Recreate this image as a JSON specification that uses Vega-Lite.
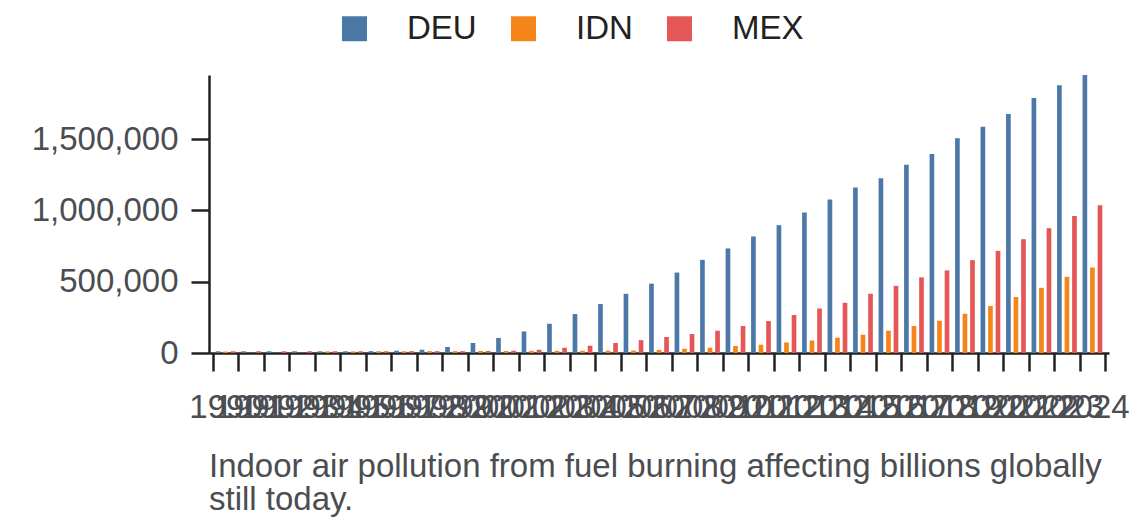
{
  "$schema": "https://vega.github.io/schema/vega-lite/v6.json",
  "width": 900,
  "height": 278,
  "autosize": "none",
  "padding": {"left": 209, "top": 75, "right": 31, "bottom": 175},
  "config": {
    "font": "Liberation Sans",
    "view": {"stroke": null}
  },
  "title": {
    "text": ["Indoor air pollution from fuel burning affecting billions globally", "still today."],
    "orient": "bottom",
    "anchor": "start",
    "frame": "group",
    "fontSize": 33,
    "fontWeight": "normal",
    "color": "#4a4d52",
    "lineHeight": 33,
    "offset": 27
  },
  "data": {
    "values": [
      {"year": "1990", "country": "DEU", "value": 12000},
      {"year": "1991", "country": "DEU", "value": 12000},
      {"year": "1992", "country": "DEU", "value": 12000},
      {"year": "1993", "country": "DEU", "value": 12000},
      {"year": "1994", "country": "DEU", "value": 12000},
      {"year": "1995", "country": "DEU", "value": 12000},
      {"year": "1996", "country": "DEU", "value": 13000},
      {"year": "1997", "country": "DEU", "value": 16000},
      {"year": "1998", "country": "DEU", "value": 23000},
      {"year": "1999", "country": "DEU", "value": 42000},
      {"year": "2000", "country": "DEU", "value": 70000},
      {"year": "2001", "country": "DEU", "value": 105000},
      {"year": "2002", "country": "DEU", "value": 151000},
      {"year": "2003", "country": "DEU", "value": 205000},
      {"year": "2004", "country": "DEU", "value": 273000},
      {"year": "2005", "country": "DEU", "value": 343000},
      {"year": "2006", "country": "DEU", "value": 415000},
      {"year": "2007", "country": "DEU", "value": 486000},
      {"year": "2008", "country": "DEU", "value": 564000},
      {"year": "2009", "country": "DEU", "value": 653000},
      {"year": "2010", "country": "DEU", "value": 733000},
      {"year": "2011", "country": "DEU", "value": 817000},
      {"year": "2012", "country": "DEU", "value": 896000},
      {"year": "2013", "country": "DEU", "value": 985000},
      {"year": "2014", "country": "DEU", "value": 1076000},
      {"year": "2015", "country": "DEU", "value": 1160000},
      {"year": "2016", "country": "DEU", "value": 1225000},
      {"year": "2017", "country": "DEU", "value": 1319000},
      {"year": "2018", "country": "DEU", "value": 1396000},
      {"year": "2019", "country": "DEU", "value": 1506000},
      {"year": "2020", "country": "DEU", "value": 1587000},
      {"year": "2021", "country": "DEU", "value": 1676000},
      {"year": "2022", "country": "DEU", "value": 1788000},
      {"year": "2023", "country": "DEU", "value": 1877000},
      {"year": "2024", "country": "DEU", "value": 1949000},
      {"year": "1990", "country": "IDN", "value": 10000},
      {"year": "1994", "country": "IDN", "value": 11000},
      {"year": "1995", "country": "IDN", "value": 11000},
      {"year": "1996", "country": "IDN", "value": 12000},
      {"year": "1997", "country": "IDN", "value": 12000},
      {"year": "1998", "country": "IDN", "value": 13000},
      {"year": "1999", "country": "IDN", "value": 13000},
      {"year": "2000", "country": "IDN", "value": 14000},
      {"year": "2001", "country": "IDN", "value": 14000},
      {"year": "2002", "country": "IDN", "value": 15000},
      {"year": "2003", "country": "IDN", "value": 15000},
      {"year": "2004", "country": "IDN", "value": 16000},
      {"year": "2005", "country": "IDN", "value": 16000},
      {"year": "2006", "country": "IDN", "value": 17000},
      {"year": "2007", "country": "IDN", "value": 21000},
      {"year": "2008", "country": "IDN", "value": 30000},
      {"year": "2009", "country": "IDN", "value": 37000},
      {"year": "2010", "country": "IDN", "value": 49000},
      {"year": "2011", "country": "IDN", "value": 58000},
      {"year": "2012", "country": "IDN", "value": 74000},
      {"year": "2013", "country": "IDN", "value": 88000},
      {"year": "2014", "country": "IDN", "value": 107000},
      {"year": "2015", "country": "IDN", "value": 128000},
      {"year": "2016", "country": "IDN", "value": 156000},
      {"year": "2017", "country": "IDN", "value": 189000},
      {"year": "2018", "country": "IDN", "value": 226000},
      {"year": "2019", "country": "IDN", "value": 275000},
      {"year": "2020", "country": "IDN", "value": 329000},
      {"year": "2021", "country": "IDN", "value": 392000},
      {"year": "2022", "country": "IDN", "value": 457000},
      {"year": "2023", "country": "IDN", "value": 534000},
      {"year": "2024", "country": "IDN", "value": 599000},
      {"year": "1990", "country": "MEX", "value": 12000},
      {"year": "1991", "country": "MEX", "value": 12000},
      {"year": "1992", "country": "MEX", "value": 12000},
      {"year": "1993", "country": "MEX", "value": 12000},
      {"year": "1994", "country": "MEX", "value": 12000},
      {"year": "1995", "country": "MEX", "value": 12000},
      {"year": "1996", "country": "MEX", "value": 12000},
      {"year": "1997", "country": "MEX", "value": 13000},
      {"year": "1998", "country": "MEX", "value": 13000},
      {"year": "1999", "country": "MEX", "value": 13000},
      {"year": "2000", "country": "MEX", "value": 14000},
      {"year": "2001", "country": "MEX", "value": 16000},
      {"year": "2002", "country": "MEX", "value": 23000},
      {"year": "2003", "country": "MEX", "value": 37000},
      {"year": "2004", "country": "MEX", "value": 51000},
      {"year": "2005", "country": "MEX", "value": 70000},
      {"year": "2006", "country": "MEX", "value": 90000},
      {"year": "2007", "country": "MEX", "value": 112000},
      {"year": "2008", "country": "MEX", "value": 133000},
      {"year": "2009", "country": "MEX", "value": 156000},
      {"year": "2010", "country": "MEX", "value": 189000},
      {"year": "2011", "country": "MEX", "value": 224000},
      {"year": "2012", "country": "MEX", "value": 266000},
      {"year": "2013", "country": "MEX", "value": 312000},
      {"year": "2014", "country": "MEX", "value": 352000},
      {"year": "2015", "country": "MEX", "value": 415000},
      {"year": "2016", "country": "MEX", "value": 471000},
      {"year": "2017", "country": "MEX", "value": 530000},
      {"year": "2018", "country": "MEX", "value": 579000},
      {"year": "2019", "country": "MEX", "value": 651000},
      {"year": "2020", "country": "MEX", "value": 716000},
      {"year": "2021", "country": "MEX", "value": 798000},
      {"year": "2022", "country": "MEX", "value": 875000},
      {"year": "2023", "country": "MEX", "value": 961000},
      {"year": "2024", "country": "MEX", "value": 1036000}
    ]
  },
  "mark": {"type": "bar"},
  "encoding": {
    "x": {
      "field": "year",
      "type": "ordinal",
      "scale": {"paddingInner": 0, "paddingOuter": 0.15},
      "axis": {
        "title": null,
        "labelAngle": 0,
        "labelOverlap": false,
        "labelFontSize": 33,
        "labelColor": "#4a4d52",
        "labelPadding": 20,
        "tickSize": 18,
        "tickWidth": 2.5,
        "tickColor": "#222",
        "domainColor": "#222",
        "domainWidth": 2.5,
        "tickBand": "extent"
      }
    },
    "xOffset": {
      "field": "country",
      "type": "nominal",
      "scale": {"paddingInner": 0.38, "paddingOuter": 0.38}
    },
    "y": {
      "field": "value",
      "type": "quantitative",
      "scale": {"nice": false, "domain": [0, 1949000]},
      "axis": {
        "title": null,
        "grid": false,
        "values": [0, 500000, 1000000, 1500000],
        "format": ",d",
        "labelFontSize": 33,
        "labelColor": "#4a4d52",
        "labelPadding": 13,
        "tickSize": 18,
        "tickWidth": 2.5,
        "tickColor": "#222",
        "domainColor": "#222",
        "domainWidth": 2.5
      }
    },
    "color": {
      "field": "country",
      "type": "nominal",
      "legend": {
        "title": null,
        "orient": "none",
        "direction": "horizontal",
        "legendX": 129,
        "legendY": -63,
        "symbolType": "square",
        "symbolSize": 625,
        "labelFontSize": 33,
        "labelColor": "#222",
        "labelOffset": 36,
        "columnPadding": 30
      }
    }
  }
}
